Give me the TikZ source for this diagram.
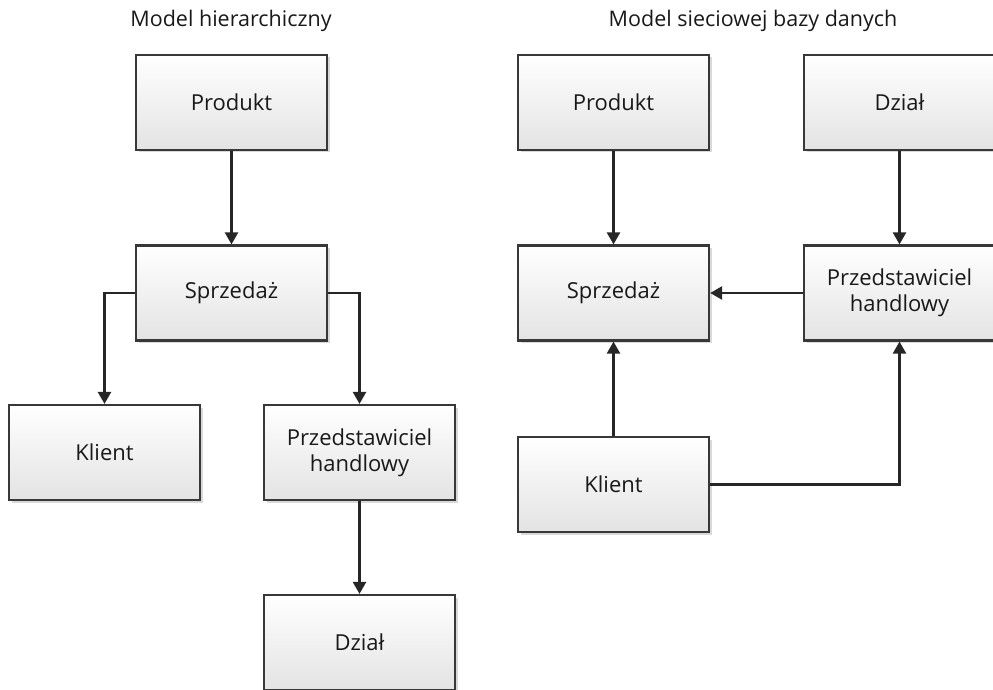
\documentclass[tikz,border=0pt]{standalone}
\usepackage{fontspec}
\setmainfont{Open Sans}
\usetikzlibrary{arrows.meta,shadows}

\tikzset{
  entity/.style={draw=black!78, line width=2.2pt, top color=white, bottom color=black!11,
    minimum width=191pt, minimum height=95pt, inner sep=2pt, align=center,
    text=black!90, font=\fontsize{22}{26}\selectfont,
    drop shadow={shadow xshift=2.5pt, shadow yshift=-2.5pt, opacity=0.25, fill=black!60}},
  heading/.style={anchor=base, text=black!90, font=\fontsize{21.5}{25}\selectfont},
  link/.style={draw=black!85, line width=2.4pt, -{Triangle[length=12pt,width=13pt]}}
}

\begin{document}
\begin{tikzpicture}[x=1pt, y=-1pt]
  \clip (0,0) rectangle (993,690);
  \useasboundingbox (0,0) rectangle (993,690);

  % hierarchical model
  \node[heading] (th) at (231,27) {Model hierarchiczny};
  \node[entity] (hprod) at (231.5,102.5) {Produkt};
  \node[entity] (hsale) at (231.5,293) {Sprzedaż};
  \node[entity] (hcli)  at (104.5,452.5) {Klient};
  \node[entity] (hrep)  at (359.5,452.5) {Przedstawiciel\\handlowy};
  \node[entity] (hdep)  at (359.5,642.5) {Dział};

  \draw[link] (hprod.south) -- (hsale.north);
  \draw[link] (hsale.west) -| (hcli.north);
  \draw[link] (hsale.east) -| (hrep.north);
  \draw[link] (hrep.south) -- (hdep.north);

  % network model
  \node[heading] (tn) at (753,27) {Model sieciowej bazy danych};
  \node[entity] (nprod) at (613.5,102.5) {Produkt};
  \node[entity] (ndep)  at (899.5,102.5) {Dział};
  \node[entity] (nsale) at (613.5,293) {Sprzedaż};
  \node[entity] (nrep)  at (899.5,293) {Przedstawiciel\\handlowy};
  \node[entity] (ncli)  at (613.5,484.5) {Klient};

  \draw[link] (nprod.south) -- (nsale.north);
  \draw[link] (ndep.south) -- (nrep.north);
  \draw[link] (nrep.west) -- (nsale.east);
  \draw[link] (ncli.north) -- (nsale.south);
  \draw[link] (ncli.east) -| (nrep.south);
\end{tikzpicture}
\end{document}
